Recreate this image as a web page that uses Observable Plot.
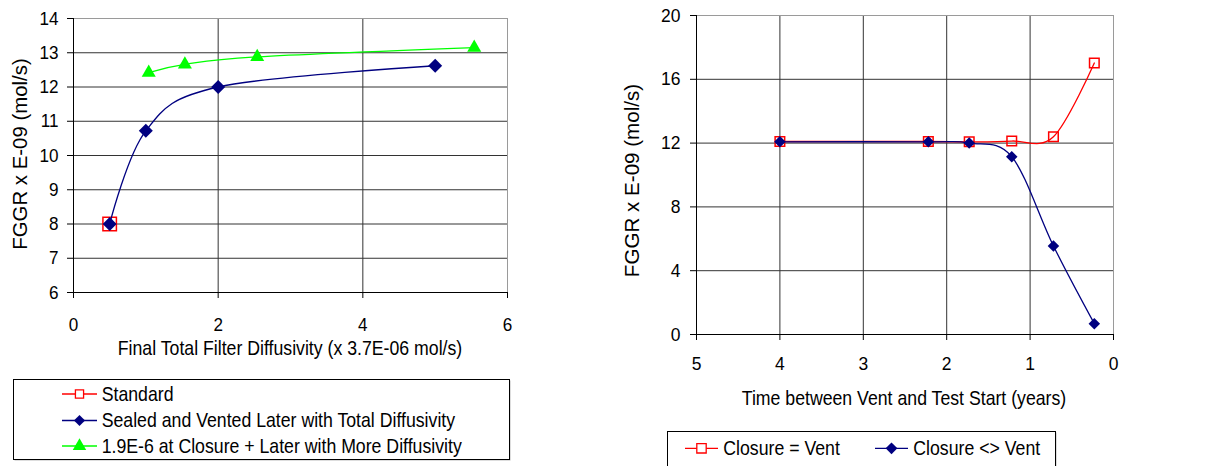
<!DOCTYPE html>
<html><head><meta charset="utf-8">
<script src="https://cdn.jsdelivr.net/npm/d3@7"></script>
<script src="https://cdn.jsdelivr.net/npm/@observablehq/plot@0.6"></script>
<style>
body{margin:0;background:#fff;font-family:"Liberation Sans",Arial,sans-serif;}
#root{position:relative;width:1205px;height:466px;overflow:hidden;background:#fff;}
#root > svg, #root > div{position:absolute;}
</style></head><body><div id="root"></div>
<script>
// ---- data ----
const leftStdX = [0.5];
const leftStdY = [8];
const leftSealX = [0.5, 1, 2, 5];
const leftSealY = [8, 10.72, 12.0, 12.62];
const leftMoreX = [1.04, 1.54, 2.54, 5.54];
const leftMoreY = [12.42, 12.66, 12.88, 13.15];
const leftXTicks = [0, 2, 4, 6];
const leftYTicks = [6, 7, 8, 9, 10, 11, 12, 13, 14];

const rightEqX = [4, 2.22, 1.73, 1.22, 0.72, 0.23];
const rightEqY = [12.1, 12.1, 12.08, 12.13, 12.4, 17.02];
const rightNeX = [4, 2.22, 1.73, 1.22, 0.72, 0.23];
const rightNeY = [12.08, 12.08, 12.0, 11.15, 5.55, 0.68];
const rightXTicks = [5, 4, 3, 2, 1, 0];
const rightYTicks = [0, 4, 8, 12, 16, 20];

const leftXTitle = "Final Total Filter Diffusivity (x 3.7E-06 mol/s)";
const rightXTitle = "Time between Vent and Test Start (years)";
const yTitle = "FGGR x E-09 (mol/s)";
const leftLegend = ["Standard", "Sealed and Vented Later with Total Diffusivity", "1.9E-6 at Closure + Later with More Diffusivity"];
const rightLegend = ["Closure = Vent", "Closure <> Vent"];

const RED = "#FF0000", NAVY = "#000080", GREEN = "#00FF00";
const GRID = "#333333", BORDER = "#9a9a9a";

const rows = (X, Y) => X.map((x, i) => ({x, y: Y[i]}));
const root = document.getElementById("root");
const font = "'Liberation Sans', Arial, sans-serif";

// narrow the glyphs horizontally (the reference text is horizontally condensed)
function condense(svg, sx) {
  svg.querySelectorAll("text").forEach(t => {
    const w = t.getComputedTextLength();
    if (w > 0) {
      t.setAttribute("textLength", (w * sx).toFixed(2));
      t.setAttribute("lengthAdjust", "spacingAndGlyphs");
    }
  });
}

// ---- left chart ----
const left = Plot.plot({
  width: 600, height: 360,
  marginLeft: 73, marginRight: 93, marginTop: 18, marginBottom: 68,
  style: {fontFamily: font, fontSize: "18.8px", color: "#000", background: "transparent", overflow: "visible"},
  x: {domain: [0, 6]},
  y: {domain: [6, 14]},
  marks: [
    Plot.gridY(leftYTicks.slice(1, -1), {stroke: GRID, strokeOpacity: 1}),
    Plot.gridX(leftXTicks.slice(1, -1), {stroke: GRID, strokeOpacity: 1}),
    Plot.ruleY([14], {stroke: BORDER}),
    Plot.ruleX([6], {stroke: BORDER}),
    Plot.ruleY([6], {stroke: "#000"}),
    Plot.ruleX([0], {stroke: "#000"}),
    Plot.axisX({ticks: leftXTicks, tickSize: 6, tickPadding: 19, label: null, tickFormat: d => String(d)}),
    Plot.axisY({ticks: leftYTicks, tickSize: 6, tickPadding: 9, label: null, tickFormat: d => String(d)}),
    Plot.dot(rows(leftStdX, leftStdY), {x: "x", y: "y", symbol: "square", r: 7.6, stroke: RED, fill: "none", strokeWidth: 1.5}),
    Plot.line(rows(leftMoreX, leftMoreY), {x: "x", y: "y", stroke: GREEN, strokeWidth: 1.3, curve: "cardinal"}),
    Plot.dot(rows(leftMoreX, leftMoreY), {x: "x", y: "y", symbol: "triangle", r: 5.2, fill: GREEN, stroke: "none"}),
    Plot.line(rows(leftSealX, leftSealY), {x: "x", y: "y", stroke: NAVY, strokeWidth: 1.3, curve: "cardinal"}),
    Plot.dot(rows(leftSealX, leftSealY), {x: "x", y: "y", symbol: "diamond2", r: 6.3, fill: NAVY, stroke: "none"})
  ]
});
left.style.left = "0px"; left.style.top = "0px";
root.appendChild(left);
condense(left, 0.91);

// ---- right chart ----
const right = Plot.plot({
  width: 605, height: 420,
  marginLeft: 96, marginRight: 92, marginTop: 15, marginBottom: 86,
  style: {fontFamily: font, fontSize: "18.8px", color: "#000", background: "transparent", overflow: "visible"},
  x: {domain: [5, 0]},
  y: {domain: [0, 20]},
  marks: [
    Plot.gridY(rightYTicks.slice(1, -1), {stroke: GRID, strokeOpacity: 1}),
    Plot.gridX(rightXTicks.slice(1, -1), {stroke: GRID, strokeOpacity: 1}),
    Plot.ruleY([20], {stroke: BORDER}),
    Plot.ruleX([0], {stroke: BORDER}),
    Plot.ruleY([0], {stroke: "#000"}),
    Plot.ruleX([5], {stroke: "#000"}),
    Plot.axisX({ticks: rightXTicks, tickSize: 6, tickPadding: 16, label: null, tickFormat: d => String(d)}),
    Plot.axisY({ticks: rightYTicks, tickSize: 6, tickPadding: 10, label: null, tickFormat: d => String(d)}),
    Plot.line(rows(rightEqX, rightEqY), {x: "x", y: "y", stroke: RED, strokeWidth: 1.3, curve: "cardinal"}),
    Plot.dot(rows(rightEqX, rightEqY), {x: "x", y: "y", symbol: "square", r: 5.4, stroke: RED, fill: "none", strokeWidth: 1.5}),
    Plot.line(rows(rightNeX, rightNeY), {x: "x", y: "y", stroke: NAVY, strokeWidth: 1.3, curve: "cardinal"}),
    Plot.dot(rows(rightNeX, rightNeY), {x: "x", y: "y", symbol: "diamond2", r: 5.2, fill: NAVY, stroke: "none"})
  ]
});
right.style.left = "600px"; right.style.top = "0px";
root.appendChild(right);
condense(right, 0.93);

// ---- titles and legends overlay ----
const ov = d3.select(root).append("svg")
  .attr("width", 1205).attr("height", 466)
  .style("left", "0px").style("top", "0px")
  .style("font-family", font).style("pointer-events", "none");

const SX = 0.885;
const title = (x, y, txt, size, rot, sx) => ov.append("text")
  .attr("transform", `translate(${x},${y})` + (rot ? " rotate(-90)" : "") + ` scale(${sx},1)`)
  .attr("text-anchor", "middle").attr("font-size", size).attr("fill", "#000").text(txt);
title(290, 354.5, leftXTitle, 20, false, SX);
title(904, 404.5, rightXTitle, 20, false, SX);
title(26.5, 154, yTitle, 20.4, true, 1);
title(639, 180.5, yTitle, 20.6, true, 1);

const sym = (name, r) => d3.symbol(name, r * r * Math.PI)();
const ltext = (x, y, txt) => ov.append("text")
  .attr("transform", `translate(${x},${y}) scale(${SX},1)`)
  .attr("font-size", 20).attr("fill", "#000").text(txt);

// left legend box
ov.append("rect").attr("x", 14.5).attr("y", 380.5).attr("width", 496).attr("height", 80).attr("fill", "#bbb");
ov.append("rect").attr("x", 13.5).attr("y", 379.5).attr("width", 496).attr("height", 80).attr("fill", "#fff").attr("stroke", "#000");
const leftItems = [
  {label: leftLegend[0], color: RED, sym: d3.symbolSquare, r: 4.6, fill: "#fff", stroke: RED, y: 394},
  {label: leftLegend[1], color: NAVY, sym: d3.symbolDiamond2, r: 5, fill: NAVY, stroke: "none", y: 420.5},
  {label: leftLegend[2], color: GREEN, sym: d3.symbolTriangle, r: 5, fill: GREEN, stroke: "none", y: 446}
];
for (const it of leftItems) {
  ov.append("line").attr("x1", 62).attr("x2", 97).attr("y1", it.y).attr("y2", it.y).attr("stroke", it.color).attr("stroke-width", 1.3);
  ov.append("path").attr("d", sym(it.sym, it.r)).attr("transform", `translate(79.5,${it.y})`)
    .attr("fill", it.fill).attr("stroke", it.stroke).attr("stroke-width", 1.3);
  ltext(101.7, it.y + 6.8, it.label);
}

// right legend box
ov.append("rect").attr("x", 668.5).attr("y", 432.5).attr("width", 388).attr("height", 50).attr("fill", "#bbb");
ov.append("rect").attr("x", 667.5).attr("y", 431.5).attr("width", 388).attr("height", 50).attr("fill", "#fff").attr("stroke", "#000");
const rightItems = [
  {label: rightLegend[0], color: RED, sym: d3.symbolSquare, r: 5.3, fill: "#fff", stroke: RED, x0: 685, x1: 718, tx: 723.3},
  {label: rightLegend[1], color: NAVY, sym: d3.symbolDiamond2, r: 5.3, fill: NAVY, stroke: "none", x0: 875, x1: 908, tx: 913.3}
];
for (const it of rightItems) {
  const cy = 448.3, cx = (it.x0 + it.x1) / 2;
  ov.append("line").attr("x1", it.x0).attr("x2", it.x1).attr("y1", cy).attr("y2", cy).attr("stroke", it.color).attr("stroke-width", 1.3);
  ov.append("path").attr("d", sym(it.sym, it.r)).attr("transform", `translate(${cx},${cy})`)
    .attr("fill", it.fill).attr("stroke", it.stroke).attr("stroke-width", 1.3);
  ltext(it.tx, cy + 7, it.label);
}
</script></body></html>
